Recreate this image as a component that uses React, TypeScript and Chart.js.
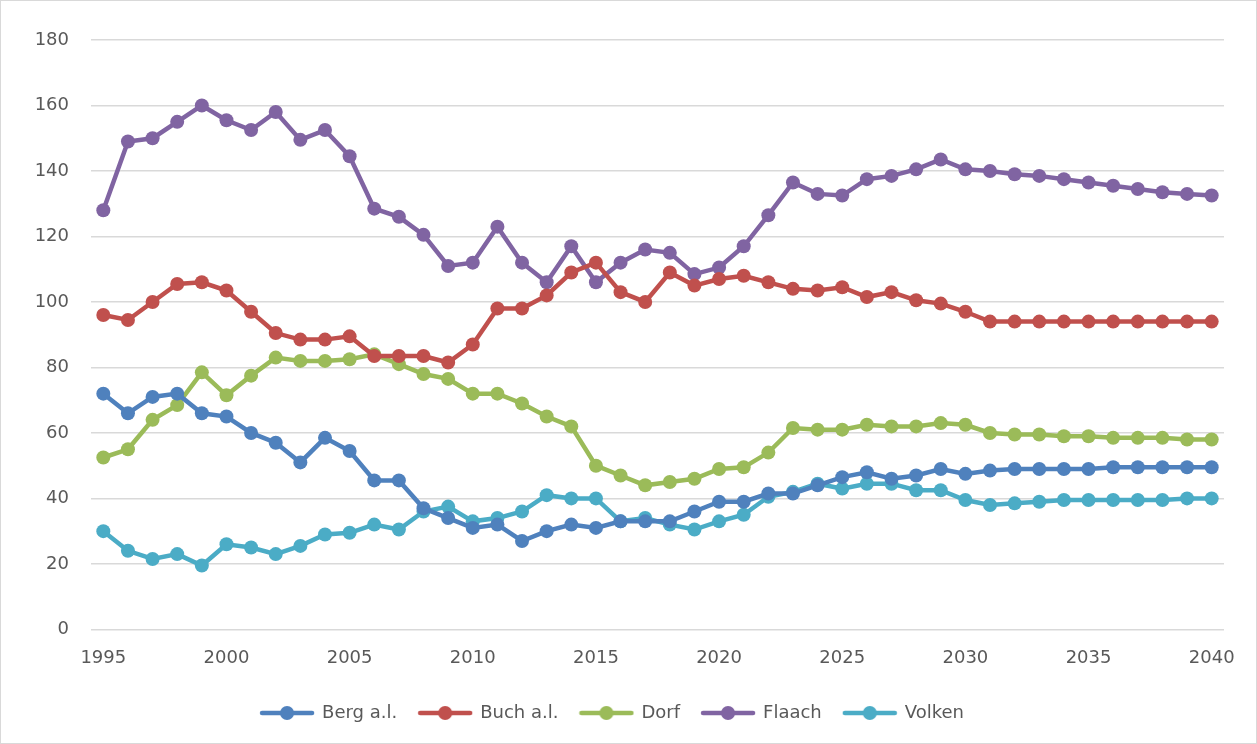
import React, { useEffect, useRef } from "react";
import { Chart, registerables } from "chart.js";

Chart.register(...registerables);

const years: number[] = [];
for (let y = 1995; y <= 2040; y++) years.push(y);

const xTicks = [1995, 2000, 2005, 2010, 2015, 2020, 2025, 2030, 2035, 2040];
const yTicks = [0, 20, 40, 60, 80, 100, 120, 140, 160, 180];

const berg = [72, 66, 71, 72, 66, 65, 60, 57, 51, 58.5, 54.5, 45.5, 45.5, 37, 34, 31, 32, 27, 30, 32, 31, 33, 33, 33, 36, 39, 39, 41.5, 41.5, 44, 46.5, 48, 46, 47, 49, 47.5, 48.5, 49, 49, 49, 49, 49.5, 49.5, 49.5, 49.5, 49.5];
const buch = [96, 94.5, 100, 105.5, 106, 103.5, 97, 90.5, 88.5, 88.5, 89.5, 83.5, 83.5, 83.5, 81.5, 87, 98, 98, 102, 109, 112, 103, 100, 109, 105, 107, 108, 106, 104, 103.5, 104.5, 101.5, 103, 100.5, 99.5, 97, 94, 94, 94, 94, 94, 94, 94, 94, 94, 94];
const dorf = [52.5, 55, 64, 68.5, 78.5, 71.5, 77.5, 83, 82, 82, 82.5, 84, 81, 78, 76.5, 72, 72, 69, 65, 62, 50, 47, 44, 45, 46, 49, 49.5, 54, 61.5, 61, 61, 62.5, 62, 62, 63, 62.5, 60, 59.5, 59.5, 59, 59, 58.5, 58.5, 58.5, 58, 58];
const flaach = [128, 149, 150, 155, 160, 155.5, 152.5, 158, 149.5, 152.5, 144.5, 128.5, 126, 120.5, 111, 112, 123, 112, 106, 117, 106, 112, 116, 115, 108.5, 110.5, 117, 126.5, 136.5, 133, 132.5, 137.5, 138.5, 140.5, 143.5, 140.5, 140, 139, 138.5, 137.5, 136.5, 135.5, 134.5, 133.5, 133, 132.5];
const volken = [30, 24, 21.5, 23, 19.5, 26, 25, 23, 25.5, 29, 29.5, 32, 30.5, 36, 37.5, 33, 34, 36, 41, 40, 40, 33, 34, 32, 30.5, 33, 35, 40.5, 42, 44.5, 43, 44.5, 44.5, 42.5, 42.5, 39.5, 38, 38.5, 39, 39.5, 39.5, 39.5, 39.5, 39.5, 40, 40];

const seriesNames = ["Berg a.l.", "Buch a.l.", "Dorf", "Flaach", "Volken"];
const seriesValues = [berg, buch, dorf, flaach, volken];
const seriesColors = ["#4F81BD", "#C0504D", "#9BBB59", "#8064A2", "#4BACC6"];

const FONT = "'DejaVu Sans', sans-serif";

function legendImage(color: string): HTMLCanvasElement {
  const c = document.createElement("canvas");
  c.width = 56;
  c.height = 16;
  const ctx = c.getContext("2d")!;
  ctx.strokeStyle = color;
  ctx.lineWidth = 4.5;
  ctx.lineCap = "round";
  ctx.beginPath();
  ctx.moveTo(3, 8);
  ctx.lineTo(53, 8);
  ctx.stroke();
  ctx.fillStyle = color;
  ctx.beginPath();
  ctx.arc(28, 8, 7, 0, Math.PI * 2);
  ctx.fill();
  return c;
}

export default function App() {
  const ref = useRef<HTMLCanvasElement | null>(null);

  useEffect(() => {
    if (!ref.current) return;
    const images = seriesColors.map(legendImage);
    const chart = new Chart(ref.current, {
      type: "line",
      data: {
        datasets: seriesNames.map((name, i) => ({
          label: name,
          data: years.map((yr, j) => ({ x: yr, y: seriesValues[i][j] })),
          borderColor: seriesColors[i],
          backgroundColor: seriesColors[i],
          pointBackgroundColor: seriesColors[i],
          pointBorderColor: seriesColors[i],
          borderWidth: 4.5,
          pointRadius: 7,
          pointBorderWidth: 0,
          pointHoverRadius: 7,
          tension: 0,
          fill: false,
        })),
      },
      options: {
        responsive: false,
        animation: false,
        layout: { padding: { top: 39, right: 32, bottom: 11, left: 0 } },
        plugins: {
          tooltip: { enabled: false },
          legend: {
            position: "bottom",
            labels: {
              usePointStyle: true,
              pointStyleWidth: 52,
              padding: 22,
              color: "#595959",
              font: { family: FONT, size: 18 },
              generateLabels: (chart: any) => {
                const items = Chart.defaults.plugins.legend.labels.generateLabels(chart);
                return items.map((it: any, i: number) => ({ ...it, pointStyle: images[i] }));
              },
            },
          },
        },
        scales: {
          x: {
            type: "linear",
            min: 1994.5,
            max: 2040.5,
            grid: { display: false, drawTicks: false },
            border: { display: false },
            afterBuildTicks: (scale: any) => {
              scale.ticks = xTicks.map((v) => ({ value: v }));
            },
            afterFit: (scale: any) => {
              scale.height = scale.height - 5;
            },
            ticks: {
              color: "#595959",
              font: { family: FONT, size: 18 },
              padding: 18,
              maxRotation: 0,
              autoSkip: false,
              callback: (v: any) => String(v),
            },
          },
          y: {
            type: "linear",
            min: 0,
            max: 180,
            afterBuildTicks: (scale: any) => {
              scale.ticks = yTicks.map((v) => ({ value: v }));
            },
            afterFit: (scale: any) => {
              scale.width = 90;
            },
            grid: { color: "#d9d9d9", lineWidth: 1.5, drawTicks: false },
            border: { display: false },
            ticks: {
              color: "#595959",
              font: { family: FONT, size: 18 },
              padding: 22,
              callback: (v: any) => String(v),
            },
          },
        },
      },
    });
    return () => chart.destroy();
  }, []);

  return (
    <div
      style={{
        position: "fixed",
        left: 0,
        top: 0,
        width: 1257,
        height: 744,
        boxSizing: "border-box",
        border: "1px solid #d9d9d9",
        background: "#fff",
      }}
    >
      <canvas ref={ref} width={1255} height={742} style={{ display: "block" }} />
    </div>
  );
}
